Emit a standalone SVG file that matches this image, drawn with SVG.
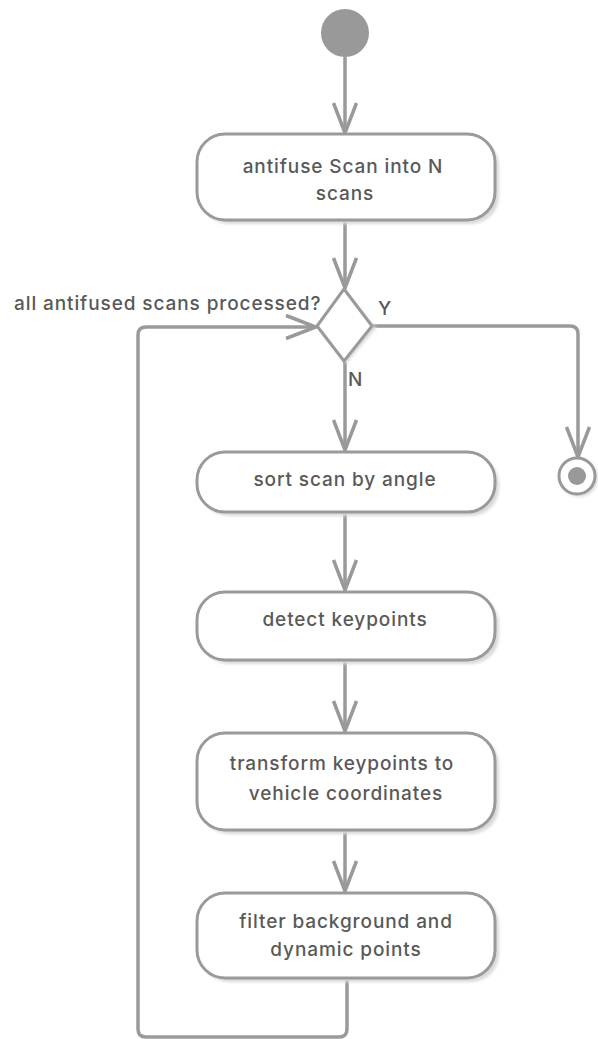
<svg xmlns="http://www.w3.org/2000/svg" width="598" height="1039" viewBox="0 0 598 1039">
  <defs>
    <marker id="arrow" viewBox="0 0 34 28" refX="32" refY="14" markerWidth="34" markerHeight="28" markerUnits="userSpaceOnUse" orient="auto">
      <path d="M2,2.5 L32,14 L2,25.5" fill="none" stroke="#999" stroke-width="3.5"/>
    </marker>
    <filter id="soft" x="-10%" y="-10%" width="130%" height="130%">
      <feGaussianBlur stdDeviation="1.5"/>
    </filter>
  </defs>
  <style>
    .shadow { fill: #d9d9d9; filter: url(#soft); }
    .box { fill: #fff; stroke: #9a9a9a; stroke-width: 3; }
    .label { font-family: Inter, "Liberation Sans", sans-serif; font-size: 19px; font-weight: 500; letter-spacing: 0.9px; fill: #595959; text-anchor: middle; }
    .edge { fill: none; stroke: #9a9a9a; stroke-width: 3.5; }
    .tag { font-family: Inter, "Liberation Sans", sans-serif; font-size: 19px; font-weight: 500; letter-spacing: 0.9px; fill: #595959; }
  </style>
  <rect width="598" height="1039" fill="#fff"/>

  <!-- connectors -->
  <g id="connectors">
    <path class="edge" d="M345,57 V133" marker-end="url(#arrow)"/>
    <path class="edge" d="M345,221 V288" marker-end="url(#arrow)"/>
    <path class="edge" d="M345,362 V450" marker-end="url(#arrow)"/>
    <path class="edge" d="M345,513 V590" marker-end="url(#arrow)"/>
    <path class="edge" d="M345,661 V731" marker-end="url(#arrow)"/>
    <path class="edge" d="M345,831 V891" marker-end="url(#arrow)"/>
    <path class="edge" d="M373,326 H570 Q578,326 578,334 V457" marker-end="url(#arrow)"/>
    <path class="edge" d="M347,979 V1029 Q347,1037 339,1037 H146 Q138,1037 138,1029 V335 Q138,327 146,327 H316" marker-end="url(#arrow)"/>
  </g>

  <!-- start -->
  <g id="start">
    <circle cx="345" cy="33" r="24" fill="#999"/>
  </g>

  <g id="split">
    <rect class="shadow" x="201" y="138" width="298" height="86" rx="28"/>
    <rect class="box" x="197" y="134" width="298" height="86" rx="28"/>
    <text class="label" x="343" y="173">antifuse Scan into N</text>
    <text class="label" x="345" y="200">scans</text>
  </g>

  <g id="decision">
    <path d="M346,292 L376,328 L346,364 L318,328 Z" fill="#d9d9d9" filter="url(#soft)"/>
    <path class="box" d="M344,289 L372,326 L344,361 L317,326 Z"/>
    <text class="tag" x="14" y="310">all antifused scans processed?</text>
    <text class="tag" x="378" y="315">Y</text>
    <text class="tag" x="348" y="386">N</text>
  </g>

  <g id="sort">
    <rect class="shadow" x="201" y="456" width="298" height="60" rx="28"/>
    <rect class="box" x="197" y="452" width="298" height="60" rx="28"/>
    <text class="label" x="345" y="486">sort scan by angle</text>
  </g>

  <g id="detect">
    <rect class="shadow" x="201" y="596" width="298" height="68" rx="28"/>
    <rect class="box" x="197" y="592" width="298" height="68" rx="28"/>
    <text class="label" x="345" y="626">detect keypoints</text>
  </g>

  <g id="transform">
    <rect class="shadow" x="201" y="737" width="298" height="97" rx="28"/>
    <rect class="box" x="197" y="733" width="298" height="97" rx="28"/>
    <text class="label" x="342" y="770">transform keypoints to</text>
    <text class="label" x="346" y="800">vehicle coordinates</text>
  </g>

  <g id="filter">
    <rect class="shadow" x="201" y="897" width="298" height="85" rx="28"/>
    <rect class="box" x="197" y="893" width="298" height="85" rx="28"/>
    <text class="label" x="346" y="928">filter background and</text>
    <text class="label" x="346" y="956">dynamic points</text>
  </g>

  <!-- end -->
  <g id="end">
    <circle cx="579" cy="478" r="19" fill="#ddd" filter="url(#soft)"/>
    <circle cx="577" cy="476" r="18" fill="#fff" stroke="#999" stroke-width="3"/>
    <circle cx="577" cy="476" r="9" fill="#999"/>
  </g>
</svg>
